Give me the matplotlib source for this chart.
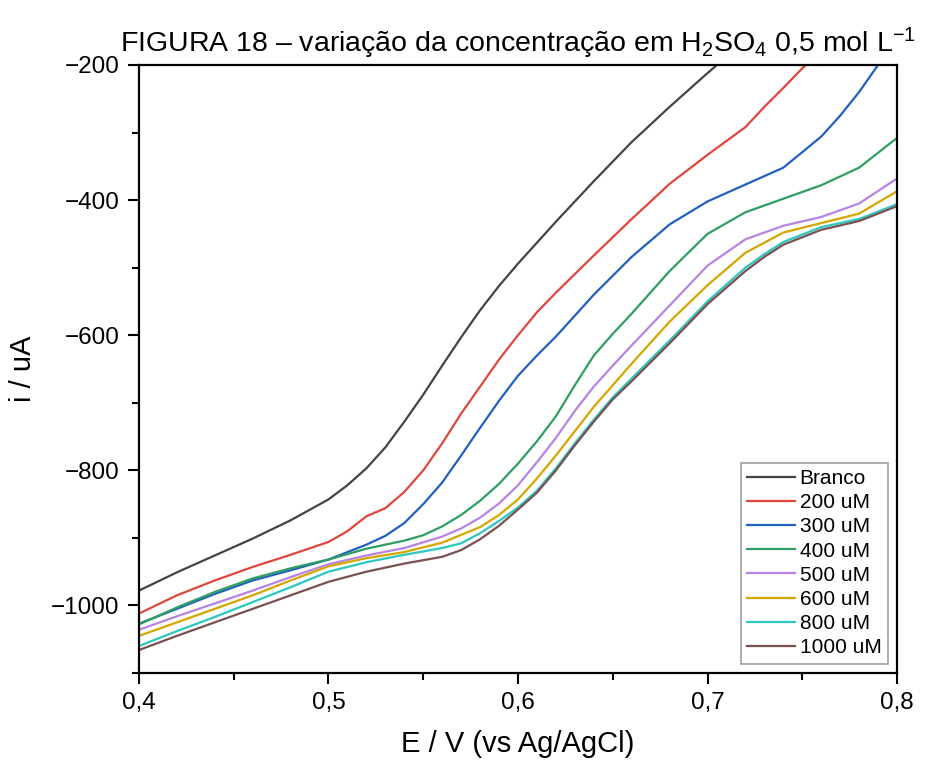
import numpy as np
import matplotlib
matplotlib.use("Agg")
import matplotlib.pyplot as plt
from matplotlib.ticker import MultipleLocator, FuncFormatter

plt.rcParams['font.family'] = ['Liberation Sans', 'DejaVu Sans']
plt.rcParams['mathtext.fontset'] = 'custom'
plt.rcParams['mathtext.rm'] = 'Liberation Sans'
plt.rcParams['mathtext.it'] = 'Liberation Sans'

# potential (V) and current (uA)
e_branco = [0.40, 0.42, 0.44, 0.46, 0.48, 0.50, 0.51, 0.52, 0.53, 0.54, 0.55, 0.56, 0.57, 0.58,
            0.59, 0.60, 0.62, 0.64, 0.66, 0.68, 0.70, 0.705]
i_branco = [-978, -951, -926, -901, -874, -843, -822, -797, -766, -728, -688, -645, -603, -563,
            -527, -494, -432, -372, -314, -262, -212, -200]

e_200 = [0.40, 0.42, 0.44, 0.46, 0.48, 0.50, 0.51, 0.52, 0.53, 0.54, 0.55, 0.56, 0.57, 0.58,
         0.59, 0.60, 0.61, 0.62, 0.64, 0.66, 0.68, 0.70, 0.72, 0.73, 0.74, 0.75, 0.752]
i_200 = [-1012, -985, -963, -943, -925, -906, -890, -868, -856, -832, -800, -760, -716, -676,
         -636, -600, -566, -537, -482, -428, -376, -333, -292, -262, -234, -205, -200]

e_300 = [0.40, 0.42, 0.44, 0.46, 0.48, 0.50, 0.52, 0.53, 0.54, 0.55, 0.56, 0.57, 0.58, 0.59,
         0.60, 0.61, 0.62, 0.64, 0.66, 0.68, 0.70, 0.72, 0.74, 0.76, 0.77, 0.78, 0.79]
i_300 = [-1027, -1005, -983, -963, -948, -932, -910, -897, -878, -850, -818, -778, -737, -697,
         -660, -630, -602, -540, -484, -436, -402, -377, -352, -306, -275, -240, -200]

e_400 = [0.40, 0.42, 0.44, 0.46, 0.48, 0.50, 0.52, 0.54, 0.55, 0.56, 0.57, 0.58, 0.59, 0.60,
         0.61, 0.62, 0.63, 0.64, 0.65, 0.66, 0.68, 0.70, 0.72, 0.74, 0.76, 0.78, 0.80]
i_400 = [-1028, -1003, -980, -960, -945, -932, -916, -904, -896, -883, -866, -845, -820, -790,
         -757, -720, -674, -630, -598, -568, -505, -450, -418, -398, -378, -352, -308]

e_500 = [0.40, 0.42, 0.44, 0.46, 0.48, 0.50, 0.52, 0.54, 0.56, 0.57, 0.58, 0.59, 0.60, 0.61,
         0.62, 0.63, 0.64, 0.65, 0.66, 0.68, 0.70, 0.72, 0.74, 0.76, 0.78, 0.80]
i_500 = [-1036, -1016, -997, -978, -958, -939, -926, -915, -898, -886, -870, -849, -822, -788,
         -752, -712, -676, -645, -615, -556, -497, -458, -438, -425, -405, -368]

e_600 = [0.40, 0.42, 0.44, 0.46, 0.48, 0.50, 0.52, 0.54, 0.56, 0.58, 0.59, 0.60, 0.61, 0.62,
         0.63, 0.64, 0.66, 0.68, 0.70, 0.72, 0.74, 0.76, 0.78, 0.80]
i_600 = [-1045, -1025, -1005, -985, -963, -942, -930, -921, -907, -884, -866, -843, -812, -778,
         -742, -706, -642, -580, -526, -478, -448, -434, -420, -387]

e_800 = [0.40, 0.42, 0.44, 0.46, 0.48, 0.50, 0.52, 0.54, 0.56, 0.57, 0.58, 0.59, 0.60, 0.61,
         0.62, 0.63, 0.64, 0.65, 0.66, 0.68, 0.70, 0.72, 0.73, 0.74, 0.76, 0.78, 0.80]
i_800 = [-1060, -1038, -1017, -995, -973, -950, -936, -925, -915, -908, -893, -875, -855, -830,
         -797, -760, -725, -692, -664, -608, -550, -500, -480, -462, -440, -428, -406]

e_1000 = [0.40, 0.42, 0.44, 0.46, 0.48, 0.50, 0.52, 0.54, 0.56, 0.57, 0.58, 0.59, 0.60, 0.61,
          0.62, 0.63, 0.64, 0.65, 0.66, 0.68, 0.70, 0.72, 0.73, 0.74, 0.76, 0.78, 0.80]
i_1000 = [-1066, -1045, -1025, -1005, -985, -965, -950, -938, -928, -918, -902, -882, -858, -833,
          -800, -763, -728, -695, -668, -612, -554, -505, -484, -466, -444, -431, -409]

labels = ['Branco', '200 uM', '300 uM', '400 uM', '500 uM', '600 uM', '800 uM', '1000 uM']
colors = ['#444444', '#e0463c', '#2260c0', '#2e9e62', '#b783e4', '#d4a600', '#2cc8c0', '#7b5050']

series = [(e_branco, i_branco), (e_200, i_200), (e_300, i_300), (e_400, i_400),
          (e_500, i_500), (e_600, i_600), (e_800, i_800), (e_1000, i_1000)]

fig = plt.figure(figsize=(9.34, 7.69), dpi=100)
ax = fig.add_axes([0.1488, 0.1248, 0.8116, 0.7907])

for (e, i), lab, col in zip(series, labels, colors):
    ax.plot(e, i, color=col, lw=1.6, label=lab, solid_joinstyle='round')

ax.set_xlim(0.4, 0.8)
ax.set_ylim(-1100, -200)
ax.xaxis.set_major_locator(MultipleLocator(0.1))
ax.xaxis.set_minor_locator(MultipleLocator(0.05))
ax.yaxis.set_major_locator(MultipleLocator(200))
ax.yaxis.set_minor_locator(MultipleLocator(100))
ax.xaxis.set_major_formatter(FuncFormatter(lambda v, p: f"{v:.1f}".replace('.', ',')))
ax.yaxis.set_major_formatter(FuncFormatter(lambda v, p: f"{v:.0f}".replace('-', '\u2212')))
ax.tick_params(which='major', direction='out', length=8, width=1.5, labelsize=17.5, pad=6)
ax.tick_params(which='minor', direction='out', length=5, width=1.5)
for s in ax.spines.values():
    s.set_linewidth(1.6)

ax.set_xlabel('E / V (vs Ag/AgCl)', fontsize=21, labelpad=11)
ax.set_ylabel('i / uA', fontsize=21, labelpad=10)
ax.set_title('FIGURA 18 \u2013 varia\u00e7\u00e3o da concentra\u00e7\u00e3o em H$_2$SO$_4$ 0,5 mol L$^{\u22121}$',
             fontsize=20.5, pad=9)

leg = ax.legend(loc='lower right', fontsize=15, frameon=True, fancybox=False,
                edgecolor='#888888', handlelength=2.3, handletextpad=0.2,
                labelspacing=0.25, borderpad=0.3, borderaxespad=0.45)
leg.get_frame().set_linewidth(1.2)

fig.savefig('out.png', dpi=100)
